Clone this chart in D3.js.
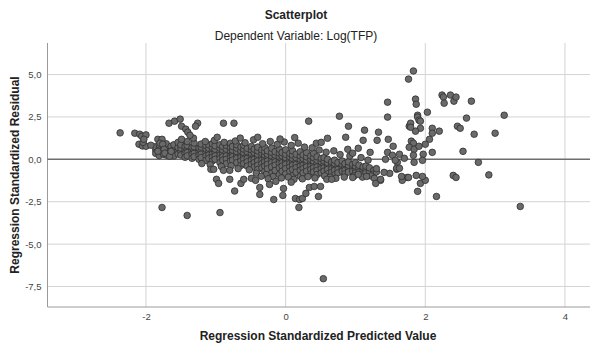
<!DOCTYPE html>
<html>
<head>
<meta charset="utf-8">
<script src="https://cdn.jsdelivr.net/npm/d3@7"></script>
<style>
  body { margin: 0; background: #fff; }
  text { font-family: "Liberation Sans", Arial, sans-serif; }
  .grid { stroke: #d4d4d4; stroke-width: 1; }
  .zero { stroke: #6e6e6e; stroke-width: 1.5; }
  .frame { stroke: #9a9a9a; stroke-width: 1; }
  .tick { font-size: 9.5px; fill: #444; }
  .pt { fill: #6a6a6a; stroke: #2e2e2e; stroke-width: 0.8; }
</style>
</head>
<body>
<script>
// regression standardized predicted value (x) vs standardized residual (y)

var xTicks = [-2, 0, 2, 4];
var yTicks = [5, 2.5, 0, -2.5, -5, -7.5];

// main band, as columns: [x, [y, y, ...]]
var core = [
  [-1.86, [0.55, 0.75, 0.35]],
  [-1.81, [0.65, 0.4, 0.85, 0.22]],
  [-1.75, [0.5, 0.76, 0.3]],
  [-1.71, [0.66, 0.45, 0.92, 0.25]],
  [-1.64, [0.56, 0.32, 0.77]],
  [-1.6, [0.6, 0.4, 0.2, 0.86]],
  [-1.54, [0.5, 0.7, 0.31, 1.0]],
  [-1.5, [0.45, 0.66, 0.25, 0.86]],
  [-1.44, [0.55, 0.35, 0.76, 0.12]],
  [-1.41, [0.6, 0.4, 0.2, 0.82, 1.05]],
  [-1.34, [0.5, 0.3, 0.7, 0.06]],
  [-1.31, [0.55, 0.35, 0.75, 0.15, 0.96]],
  [-1.24, [0.45, 0.66, 0.25, 0.0]],
  [-1.21, [0.5, 0.3, 0.72, 0.1, 0.9]],
  [-1.14, [0.4, 0.6, 0.2, -0.06, 0.8]],
  [-1.1, [0.45, 0.25, 0.65, 0.05, 0.86]],
  [-1.05, [0.5, 0.3, 0.7, 0.12, -0.1, 0.92]],
  [-1.01, [0.4, 0.2, 0.6, 0.0, 0.8]],
  [-0.94, [0.45, 0.25, 0.66, 0.05, -0.2, 0.86]],
  [-0.9, [0.35, 0.55, 0.15, 0.76, -0.05]],
  [-0.85, [0.4, 0.2, 0.6, 0.0, 0.82, -0.26]],
  [-0.79, [0.3, 0.5, 0.1, 0.7, -0.1, 0.95]],
  [-0.76, [0.35, 0.15, 0.55, -0.05, 0.76]],
  [-0.7, [0.25, 0.45, 0.05, 0.66, -0.2, 0.86]],
  [-0.64, [0.3, 0.1, 0.5, -0.1, 0.72, -0.36]],
  [-0.6, [0.2, 0.4, 0.0, 0.6, -0.25, 0.82]],
  [-0.55, [0.25, 0.05, 0.45, -0.15, 0.65, -0.4]],
  [-0.49, [0.15, 0.35, -0.05, 0.56, -0.3, 0.76]],
  [-0.45, [0.2, 0.0, 0.4, -0.2, 0.6, -0.46]],
  [-0.4, [0.1, 0.3, -0.1, 0.5, -0.35, 0.72, -0.6]],
  [-0.34, [0.15, -0.05, 0.35, -0.25, 0.55, -0.5]],
  [-0.3, [0.05, 0.25, -0.15, 0.45, -0.4, 0.7, -0.72]],
  [-0.26, [0.1, -0.1, 0.3, -0.3, 0.5, -0.56]],
  [-0.2, [0.0, 0.2, -0.2, 0.4, -0.45, 0.66, -0.82]],
  [-0.15, [0.05, -0.15, 0.25, -0.35, 0.45, -0.66]],
  [-0.09, [-0.05, 0.15, -0.25, 0.36, -0.5, 0.6, -0.9]],
  [-0.05, [0.0, -0.2, 0.2, -0.4, 0.4, -0.7]],
  [0.0, [-0.1, 0.1, -0.3, 0.3, -0.55, 0.56, -0.86]],
  [0.06, [-0.05, -0.25, 0.15, -0.45, 0.35, -0.7]],
  [0.1, [-0.15, 0.05, -0.35, 0.25, -0.6, 0.5, -0.96]],
  [0.15, [-0.1, -0.3, 0.1, -0.5, 0.3, -0.76]],
  [0.21, [-0.2, 0.0, -0.4, 0.2, -0.65, 0.45, -1.0]],
  [0.25, [-0.15, -0.35, 0.05, -0.55, 0.26, -0.8]],
  [0.3, [-0.25, -0.05, -0.45, 0.15, -0.7, 0.4]],
  [0.36, [-0.2, -0.4, 0.0, -0.6, 0.2, -0.86]],
  [0.4, [-0.3, -0.1, -0.5, 0.1, -0.75, 0.36]],
  [0.45, [-0.25, -0.45, -0.05, -0.65, 0.15, -0.9]],
  [0.51, [-0.35, -0.15, -0.55, 0.05, -0.8]],
  [0.55, [-0.3, -0.5, -0.1, -0.7, 0.1]],
  [0.6, [-0.4, -0.2, -0.6, 0.0, -0.86]],
  [0.66, [-0.35, -0.55, -0.15, -0.76]],
  [0.7, [-0.45, -0.25, -0.65, -0.05, -0.92]],
  [0.75, [-0.4, -0.6, -0.2, -0.8]],
  [0.81, [-0.5, -0.3, -0.7, -0.1]],
  [0.85, [-0.45, -0.65, -0.25, -0.86]],
  [0.9, [-0.55, -0.35, -0.75, -0.15]],
  [0.96, [-0.5, -0.7, -0.3]],
  [1.0, [-0.6, -0.4, -0.8, -0.2]],
  [1.05, [-0.55, -0.76, -0.35]],
  [1.11, [-0.65, -0.45, -0.86]],
  [1.15, [-0.6, -0.8, -0.4]],
  [1.2, [-0.7, -0.5]],
  [1.26, [-0.66, -0.86]],
  [1.3, [-0.75, -0.55]]
];

// loose points along the upper and lower edge of the band
var bandEdge = [
  [-1.15, 1.05], [-1.02, 1.12], [-0.88, 1.0], [-0.72, 1.08], [-0.58, 0.98],
  [-0.46, 1.15], [-0.33, 0.92], [-0.22, 1.05], [-0.12, 0.88], [-0.02, 1.02],
  [0.08, 0.82], [0.18, 0.95], [0.27, 0.72], [0.38, 0.68], [0.48, 0.55],
  [0.58, 0.42], [0.69, 0.5], [0.78, 0.28], [0.92, 0.2], [1.08, 0.1],
  [1.18, -0.05], [-0.65, 1.25], [-0.4, 1.3], [-0.08, 1.2], [0.13, 1.28],
  [-1.32, 1.25], [-0.98, 1.3],
  [-1.2, -0.25], [-1.08, -0.32], [-0.92, -0.42], [-0.78, -0.38], [-0.68, -0.55],
  [-0.52, -0.62], [-0.42, -0.82], [-0.28, -0.9], [-0.18, -1.02], [-0.06, -1.1],
  [0.04, -1.05], [0.12, -1.18], [0.24, -1.15], [0.32, -1.02], [0.42, -1.1],
  [0.56, -0.98], [0.64, -1.05], [0.72, -1.12], [0.84, -1.05], [0.98, -0.98],
  [1.1, -1.05], [1.22, -0.98], [-0.35, -1.0], [0.08, -1.35], [-0.25, -1.15]
];

var tailLeft = [
  [-2.37, 1.56], [-2.16, 1.54], [-2.09, 1.48], [-2.06, 1.36], [-2.0, 1.44],
  [-2.1, 0.89], [-2.05, 0.79], [-2.0, 0.77], [-1.93, 0.83], [-2.04, 1.0],
  [-2.03, 1.18], [-1.83, 1.18], [-1.77, 1.18], [-1.8, 0.95], [-1.76, 0.89],
  [-1.83, 0.47], [-1.74, 0.59], [-1.73, 0.36], [-1.66, 0.18], [-1.64, 0.47]
];

var above = [
  [-1.67, 2.13], [-1.59, 2.25], [-1.51, 2.37], [-1.49, 1.95], [-1.43, 1.78],
  [-1.4, 1.6], [-1.37, 1.42], [-1.26, 2.13], [-1.29, 1.95], [-0.89, 2.13],
  [-0.74, 2.13], [-1.49, 1.18],
  [0.33, 2.25], [0.77, 2.54], [0.9, 1.95], [1.13, 1.72], [1.33, 1.6],
  [1.46, 3.37], [1.46, 2.49], [1.77, 1.95],
  [0.44, 0.95], [0.51, 1.0], [0.6, 1.24], [0.86, 1.3], [0.89, 0.59],
  [0.96, 0.36], [1.04, 0.65], [1.11, 1.12], [1.21, 0.41], [1.31, 1.12],
  [1.47, 1.18], [1.54, 0.77], [1.46, 0.41], [1.6, -0.18], [1.63, 0.3], [1.7, 0.06]
];

var below = [
  [-1.77, -2.84], [-1.41, -3.31], [-0.94, -3.14],
  [-1.07, -0.59], [-1.03, -0.59], [-0.99, -1.18], [-0.96, -1.42], [-0.8, -1.18],
  [-0.73, -1.87], [-0.64, -1.42], [-0.6, -1.18], [-0.49, -1.12], [-0.43, -1.24],
  [-0.37, -1.66], [-0.89, -0.65], [-0.8, -0.65],
  [-0.37, -2.07], [-0.23, -1.48], [-0.14, -1.3], [-0.03, -1.72], [-0.04, -2.13],
  [-0.17, -2.37], [0.14, -2.31], [0.2, -2.37], [0.24, -2.31], [0.19, -2.84],
  [0.29, -2.01], [0.34, -1.66], [0.41, -1.6], [0.47, -2.19], [0.5, -1.6],
  [0.59, -1.18], [0.66, -1.18], [0.96, -1.07], [1.04, -0.89], [1.16, -1.01],
  [1.27, -1.12], [1.36, -1.24], [1.49, -0.83], [1.59, -0.59], [1.67, -1.07],
  [1.74, -1.07], [1.67, -1.24], [1.29, -1.42],
  [0.54, -7.04]
];

var tailRight = [
  [1.83, 5.21], [1.76, 4.73], [1.86, 3.55], [1.87, 3.25], [2.24, 3.79],
  [2.26, 3.67], [2.27, 3.31], [2.36, 3.79], [2.41, 3.43], [2.44, 3.67],
  [2.66, 3.43], [3.13, 2.6], [2.03, 2.78], [1.89, 2.6], [1.89, 2.49],
  [1.91, 2.31], [1.93, 2.25], [2.59, 2.43], [2.46, 1.95], [2.5, 1.83],
  [2.7, 1.48], [3.0, 1.54], [2.2, 1.66], [2.1, 1.83], [2.1, 1.54],
  [2.06, 1.18], [2.0, 0.89], [2.1, 0.41], [1.93, 1.83], [1.86, 1.66],
  [1.79, 2.13], [1.79, 1.89], [1.8, 1.07], [1.83, 0.95], [1.77, 0.71],
  [1.84, 0.59], [1.91, 0.77], [1.83, 0.24], [1.97, 0.3], [1.84, -0.18],
  [1.96, -0.06], [1.53, 0.24], [1.43, 0.0], [1.57, -0.06], [1.59, -0.53],
  [1.63, -0.53], [2.54, 0.47], [2.76, -0.18], [2.4, -0.95], [2.44, -1.07],
  [2.91, -0.92], [3.36, -2.78], [2.16, -2.19], [1.89, -1.89], [1.93, -1.42],
  [2.0, -1.24], [1.96, -1.01], [1.87, -0.95], [1.76, -1.07], [1.66, -1.01],
  [1.41, -0.77], [1.36, -1.18]
];

var w = 590;
var h = 350;
var ptSize = 3.3;

var x = d3.scaleLinear().domain([-3.41, 4.33]).range([47.5, 588]);
var y = d3.scaleLinear().domain([-8.71, 6.86]).range([307, 43]);

var plot = d3.select("body")
             .append("svg")
             .attr("width", w)
             .attr("height", h);

var points = [];
core.forEach(function(c) {
  c[1].forEach(function(v) { points.push([c[0], v]); });
});
points = points.concat(bandEdge, tailLeft, above, below, tailRight);

// gridlines
plot.selectAll(".gx")
  .data(xTicks)
  .enter()
  .append("line")
  .attr("class", "grid")
  .attr("x1", function(d) { return x(d); })
  .attr("x2", function(d) { return x(d); })
  .attr("y1", 43)
  .attr("y2", 307);

plot.selectAll(".gy")
  .data(yTicks.filter(function(d) { return d !== 0; }))
  .enter()
  .append("line")
  .attr("class", "grid")
  .attr("x1", 47.5)
  .attr("x2", 590)
  .attr("y1", function(d) { return y(d); })
  .attr("y2", function(d) { return y(d); });

// axes (hyphen minus and decimal comma like the original)
var xAxis = d3.axisBottom(x).tickValues(xTicks).tickSize(0).tickPadding(6)
  .tickFormat(function(d) { return String(d); });
var yAxis = d3.axisLeft(y).tickValues(yTicks).tickSize(0).tickPadding(6)
  .tickFormat(function(d) { return d.toFixed(1).replace(".", ","); });

var gx = plot.append("g").attr("transform", "translate(0,307)").call(xAxis);
var gy = plot.append("g").attr("transform", "translate(47.5,0)").call(yAxis);
[gx, gy].forEach(function(g) {
  g.select(".domain").attr("class", "frame").attr("fill", "none");
  g.selectAll(".tick text").attr("class", "tick").attr("font-family", null).attr("font-size", null);
});
gx.select(".frame").attr("d", "M47.5,0H590");
gy.select(".frame").attr("d", "M0,43V307");

// reference line at 0
plot.append("line")
  .attr("class", "zero")
  .attr("x1", 47.5)
  .attr("x2", 590)
  .attr("y1", y(0))
  .attr("y2", y(0));

plot.selectAll(".pt")
  .data(points)
  .enter()
  .append("circle")
  .attr("class", "pt")
  .attr("cx", function(d) { return x(d[0]); })
  .attr("cy", function(d) { return y(d[1]); })
  .attr("r", ptSize);

// titles
plot.append("text")
  .attr("x", 296).attr("y", 19)
  .attr("text-anchor", "middle")
  .attr("font-size", "12px")
  .attr("font-weight", "bold")
  .attr("fill", "#222")
  .text("Scatterplot");

plot.append("text")
  .attr("x", 296).attr("y", 40)
  .attr("text-anchor", "middle")
  .attr("font-size", "12px")
  .attr("fill", "#222")
  .text("Dependent Variable: Log(TFP)");

plot.append("text")
  .attr("x", 318).attr("y", 340)
  .attr("text-anchor", "middle")
  .attr("font-size", "12px")
  .attr("font-weight", "bold")
  .attr("fill", "#222")
  .text("Regression Standardized Predicted Value");

plot.append("text")
  .attr("transform", "translate(19,175) rotate(-90)")
  .attr("text-anchor", "middle")
  .attr("font-size", "12px")
  .attr("font-weight", "bold")
  .attr("fill", "#222")
  .text("Regression Standardized Residual");
</script>
</body>
</html>
